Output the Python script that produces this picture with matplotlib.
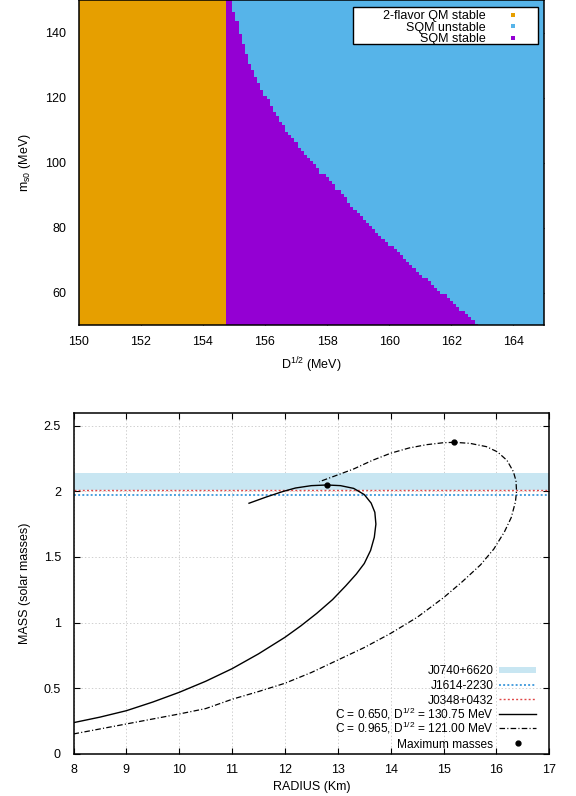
import numpy as np
import matplotlib
matplotlib.use("Agg")
import matplotlib.pyplot as plt
from matplotlib.patches import Rectangle
from matplotlib.colors import ListedColormap
from matplotlib.lines import Line2D

plt.rcParams['font.family'] = ['Liberation Sans', 'DejaVu Sans']
plt.rcParams['mathtext.fontset'] = 'custom'
plt.rcParams['mathtext.rm'] = 'Liberation Sans'
plt.rcParams['mathtext.it'] = 'Liberation Sans:italic'
plt.rcParams['lines.scale_dashes'] = False

# ---------------- data: stability window ----------------
d_grid = np.round(np.arange(150.0, 165.0001, 0.1), 2)      # D^{1/2} (MeV)
ms_grid = np.arange(50, 151, 1)                            # m_s0 (MeV)
qm2_limit = 154.75                                         # below: 2-flavor QM stable
boundary_ms = [50, 54, 64, 74, 84, 89, 94, 99, 109, 119, 125, 132, 140, 146, 150]
boundary_d = [162.85, 162.4, 161.2, 160.1, 159.08, 158.6, 158.1, 157.6, 156.75,
              156.1, 155.75, 155.45, 155.19, 155.02, 154.9]
region_labels = ['2-flavor QM stable', 'SQM unstable', 'SQM stable']
region_colors = ['#E69F00', '#56B4E9', '#9400D3']

# ---------------- data: mass-radius ----------------
r_solid = [8.0, 8.5, 9.0, 9.5, 10.0, 10.5, 11.0, 11.5, 12.0, 12.3, 12.6, 12.9, 13.15,
           13.35, 13.5, 13.62, 13.69, 13.72, 13.7, 13.63, 13.5, 13.3, 13.05, 12.79,
           12.5, 12.2, 11.95, 11.65, 11.32]
m_solid = [0.238, 0.28, 0.329, 0.395, 0.469, 0.553, 0.649, 0.762, 0.888, 0.975, 1.07,
           1.175, 1.28, 1.37, 1.45, 1.55, 1.65, 1.75, 1.84, 1.91, 1.975, 2.022, 2.043,
           2.048, 2.043, 2.025, 1.997, 1.957, 1.909]
r_dash = [8.0, 8.5, 9.0, 9.5, 10.0, 10.5, 11.0, 11.5, 12.0, 12.5, 13.0, 13.5, 14.0, 14.5,
          15.0, 15.35, 15.7, 15.95, 16.15, 16.28, 16.36, 16.38, 16.37, 16.32, 16.2,
          16.02, 15.81, 15.5, 15.2, 15.0, 14.68, 14.35, 14.0, 13.65, 13.3, 13.0, 12.65]
m_dash = [0.152, 0.19, 0.228, 0.266, 0.304, 0.345, 0.416, 0.475, 0.538, 0.62, 0.715, 0.81,
          0.918, 1.04, 1.19, 1.31, 1.44, 1.56, 1.69, 1.8, 1.92, 2.0, 2.08, 2.15, 2.235,
          2.3, 2.34, 2.365, 2.373, 2.37, 2.355, 2.33, 2.29, 2.235, 2.17, 2.125, 2.073]
r_max = [12.79, 15.2]
m_max = [2.048, 2.373]
j0740_band = (2.006, 2.139)
j1614_mass = 1.97
j0348_mass = 2.01
legend2_labels = ['J0740+6620', 'J1614-2230', 'J0348+0432',
                  r'C = 0.650, D$^{1/2}$ = 130.75 MeV', r'C = 0.965, D$^{1/2}$ = 121.00 MeV',
                  'Maximum masses']

W, H = 576, 796
fig = plt.figure(figsize=(W / 100, H / 100), dpi=100)


def fx(px):
    return px / W


def fy(py):
    return 1 - py / H


# ---------------- top panel ----------------
ax1 = fig.add_axes([fx(78.7), fy(325.2), (544.4 - 78.7) / W, 325.0 / H])
DD, MM = np.meshgrid(d_grid, ms_grid)
d_bound = np.interp(MM, boundary_ms, boundary_d)
cat = np.where(DD < qm2_limit, 0, np.where(DD <= d_bound, 2, 1))
ax1.pcolormesh(d_grid, ms_grid, cat, shading='nearest', cmap=ListedColormap(region_colors),
               vmin=-0.5, vmax=2.5, edgecolors='none', antialiased=False, zorder=2)
ax1.set_xlim(150, 165)
ax1.set_ylim(50, 150)
ax1.set_xticks(np.arange(150, 165, 2))
ax1.set_yticks(np.arange(60, 141, 20))
ax1.set_xlabel(r'D$^{1/2}$ (MeV)', fontsize=9, labelpad=5)
ax1.set_ylabel(r'm$_{\rm s0}$ (MeV)', fontsize=9, labelpad=9)
ax1.tick_params(direction='in', top=True, right=True, labelsize=9, length=4, width=0.8)
ax1.tick_params(axis='x', pad=8)
ax1.tick_params(axis='y', pad=9)
for sp in ax1.spines.values():
    sp.set_linewidth(1.1)
    sp.set_zorder(5)

handles = [Line2D([], [], ls='none', marker='s', ms=2.2, mew=0, color=c, label=l)
           for c, l in zip(region_colors, region_labels)]
ax1.add_patch(Rectangle(((353.3 - 78.7) / 465.7, (325.2 - 44.3) / 325.0),
                        (538 - 353.3) / 465.7, (44.3 - 7.3) / 325.0,
                        transform=ax1.transAxes, facecolor='white', edgecolor='black',
                        linewidth=1.0, zorder=6))
leg1 = ax1.legend(handles=handles, loc='upper right', markerfirst=False, frameon=False,
                  fontsize=9, numpoints=1, labelspacing=-0.05,
                  handletextpad=1.2, handlelength=2.0, borderpad=0,
                  bbox_to_anchor=((532 - 78.7) / 465.7, (325.2 - 4.0) / 325.0))
leg1.set_zorder(7)

# ---------------- bottom panel ----------------
ax2 = fig.add_axes([fx(73.5), fy(753.9), (549.3 - 73.5) / W, (753.9 - 412.5) / H])
ax2.grid(True, color='#c8c8c8', linestyle=(0, (1, 1.5)), linewidth=0.6)
ax2.set_axisbelow(True)
band_style = dict(color='#C8E6F2', lw=0)
j1614_style = dict(color='#2B8FD8', lw=1.2, dashes=(1.4, 1.6))
j0348_style = dict(color='#E04545', lw=1.0, dashes=(1.4, 1.6))
solid_style = dict(color='black', lw=1.0)
dash_style = dict(color='black', lw=0.9, dashes=(4, 1.6, 0.8, 1.6))
ax2.axhspan(j0740_band[0], j0740_band[1], zorder=1, **band_style)
ax2.plot([8, 17], [j1614_mass, j1614_mass], zorder=2, **j1614_style)
ax2.plot([8, 17], [j0348_mass, j0348_mass], zorder=2, **j0348_style)
ax2.plot(r_solid, m_solid, zorder=3, **solid_style)
ax2.plot(r_dash, m_dash, zorder=3, **dash_style)
ax2.plot(r_max, m_max, 'o', color='black', ms=3.5, zorder=4)
ax2.set_xlim(8, 17)
ax2.set_ylim(0, 2.6)
ax2.set_xticks(np.arange(8, 18, 1))
ax2.set_yticks([0, 0.5, 1, 1.5, 2, 2.5])
ax2.set_yticklabels(['0', '0.5', '1', '1.5', '2', '2.5'])
ax2.set_xlabel('RADIUS (Km)', fontsize=9, labelpad=4)
ax2.set_ylabel('MASS (solar masses)', fontsize=9, labelpad=9)
ax2.tick_params(direction='in', top=True, right=True, labelsize=9, length=4, width=0.8)
ax2.tick_params(axis='x', pad=7)
ax2.tick_params(axis='y', pad=9)
for sp in ax2.spines.values():
    sp.set_linewidth(1.1)

# key (gnuplot style: right-aligned labels, samples on the right, fixed row height)
key_text_x = 493.3
key_h0, key_h1 = 499.3, 535.7
key_row = 14.6
key_base0 = 747.5 - 5 * key_row
for i, lab in enumerate(legend2_labels):
    base = key_base0 + i * key_row
    fig.text(fx(key_text_x), fy(base), lab, ha='right', va='baseline', fontsize=8.6)
    yc = fy(base - 4.5)
    if i == 0:
        fig.patches.append(Rectangle((fx(key_h0), fy(base - 1.8)), fx(key_h1 - key_h0),
                                     5.6 / H, transform=fig.transFigure, **band_style))
    elif i == 5:
        fig.lines.append(Line2D([fx((key_h0 + key_h1) / 2)], [yc], marker='o', ms=3.5,
                                color='black', ls='none', transform=fig.transFigure))
    else:
        st = [j1614_style, j0348_style, solid_style, dash_style][i - 1]
        fig.lines.append(Line2D([fx(key_h0), fx(key_h1)], [yc, yc],
                                transform=fig.transFigure, **st))

fig.savefig('out.png', dpi=100)
